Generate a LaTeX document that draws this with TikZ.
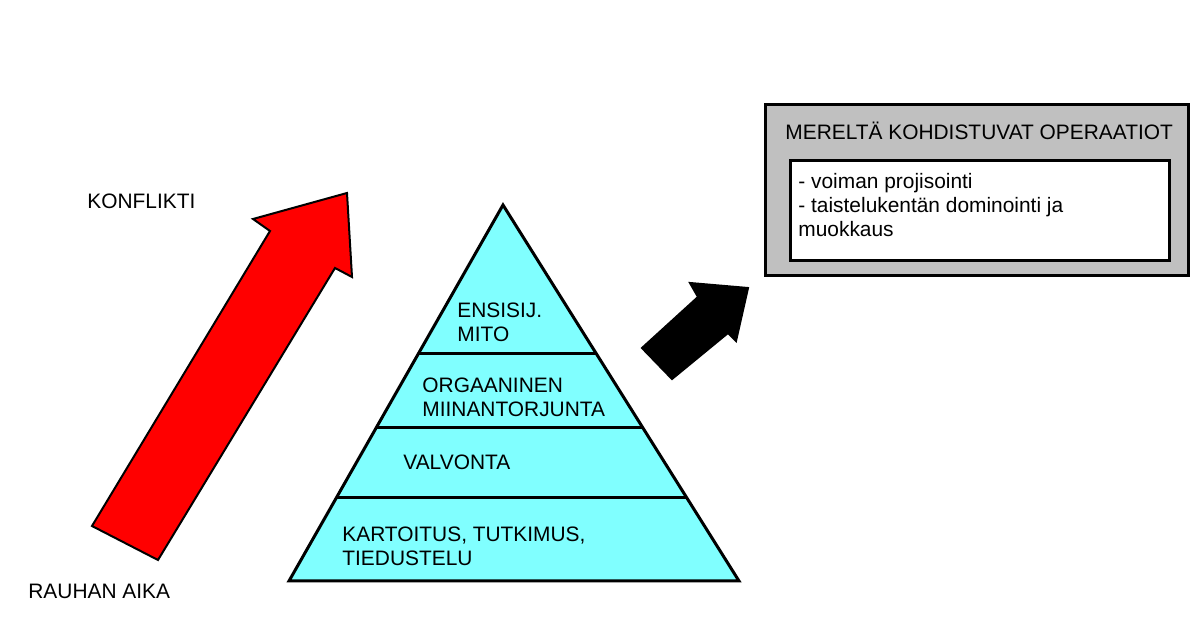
\documentclass[tikz,border=0pt]{standalone}
\usepackage{fontspec}
\setmainfont{Liberation Sans}
\usetikzlibrary{calc}

\definecolor{pyrcyan}{RGB}{128,255,255}
\definecolor{boxgray}{RGB}{192,192,192}

\begin{document}
\begin{tikzpicture}[x=0.5pt,y=-0.5pt,
    lbl/.style={anchor=base west,inner sep=0pt,align=left,
      font=\fontsize{10.45}{12}\selectfont},
    layer/.style={line width=1.5pt}]

      \useasboundingbox (0,0) rectangle (1194,640);

      % arrows
      \draw[line width=1pt,fill=red] (92,526) -- (270,231) -- (253,219) -- (347,193)
        -- (352,277) -- (335,268) -- (158,560) -- cycle;
      \draw[line width=1pt,fill=black] (642,348) -- (698,297) -- (690,283) -- (748,288)
        -- (736,341) -- (728,333) -- (672,379) -- cycle;

      % pyramid
      \coordinate (apex) at (503,205);
      \coordinate (bl) at (289,581);
      \coordinate (br) at (739,581);
      \draw[layer,fill=pyrcyan] (apex) -- (br) -- (bl) -- cycle;
      \foreach \t in {0.394,0.593,0.777}
        \draw[layer] ($(apex)!\t!(bl)$) -- ($(apex)!\t!(br)$);

      % boxes
      \node[draw,fill=boxgray,line width=1.5pt,inner sep=0pt,
        minimum width=211.5pt,minimum height=85.5pt] (oper) at (976.5,190.5) {};
      \node[draw,fill=white,line width=1.5pt,inner sep=0pt,
        minimum width=189.5pt,minimum height=50pt] (keinot) at (979.5,211) {};

      % base = baseline of last line
      \begin{scope}[every node/.style={lbl}]
        \node (konflikti) at (87,209) {KONFLIKTI};
        \node (rauha) at (28,599) {RAUHAN AIKA};
        \node (mito) at (457,342) {ENSISIJ.\\MITO};
        \node (orgmito) at (422,417) {ORGAANINEN\\MIINANTORJUNTA};
        \node (valvonta) at (403,470) {VALVONTA};
        \node (kartoitus) at (342,566) {KARTOITUS, TUTKIMUS,\\TIEDUSTELU};
        \node (otsikko) at (785,140) {MERELTÄ KOHDISTUVAT OPERAATIOT};
        \node (lista) at (798,237) {- voiman projisointi\\- taistelukentän dominointi ja\\muokkaus};
      \end{scope}

    \end{tikzpicture}
\end{document}
